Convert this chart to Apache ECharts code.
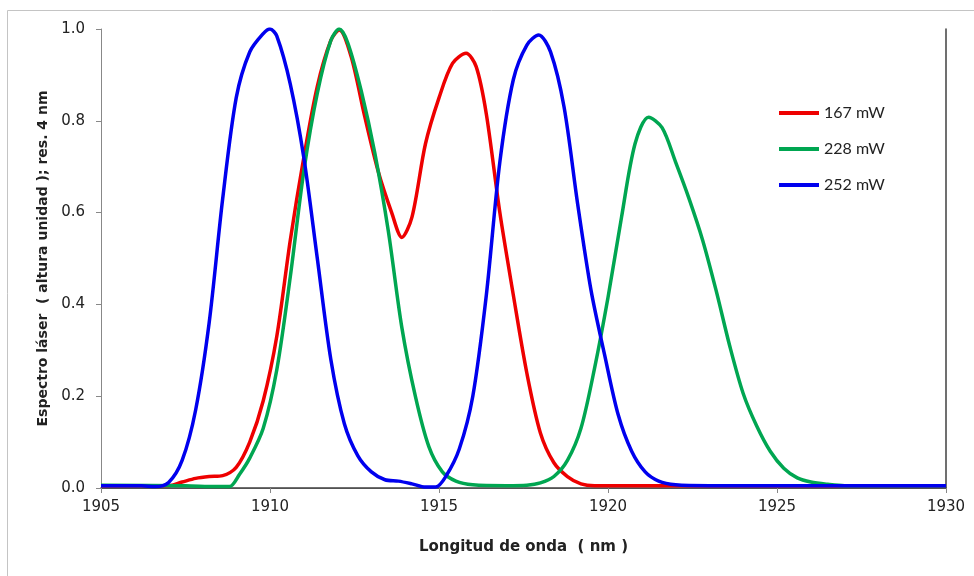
<!DOCTYPE html>
<html>
<head>
<meta charset="utf-8">
<script src="https://cdn.jsdelivr.net/npm/echarts@6/dist/echarts.min.js"></script>
<style>
  html, body { margin: 0; padding: 0; background: #fff; }
  #chart { width: 974px; height: 576px; }
</style>
</head>
<body>
<div id="chart"></div>
<script>
// wavelength (nm), normalised spectrum
var red167 = [
  [1905, 0.005], [1907.0, 0.005], [1907.4, 0.013], [1907.8, 0.021], [1908.2, 0.025],
  [1908.6, 0.027], [1909.0, 0.045], [1909.4, 0.1], [1909.8, 0.19], [1910.2, 0.33],
  [1910.6, 0.54], [1911.0, 0.72], [1911.4, 0.875], [1911.8, 0.975], [1912.05, 0.998],
  [1912.4, 0.94], [1912.8, 0.81], [1913.2, 0.69], [1913.6, 0.6], [1913.9, 0.546],
  [1914.2, 0.59], [1914.6, 0.75], [1915.0, 0.85], [1915.4, 0.925], [1915.8, 0.947],
  [1916.1, 0.918], [1916.4, 0.815], [1916.8, 0.6], [1917.2, 0.42], [1917.6, 0.25],
  [1918.0, 0.12], [1918.4, 0.055], [1918.8, 0.025], [1919.2, 0.009], [1919.6, 0.005],
  [1930, 0.005]
];
var green228 = [
  [1905, 0.006], [1907.5, 0.005], [1908.4, 0.003], [1908.8, 0.003], [1909.1, 0.03],
  [1909.4, 0.065], [1909.8, 0.13], [1910.2, 0.257], [1910.6, 0.46], [1911.0, 0.69],
  [1911.4, 0.86], [1911.8, 0.975], [1912.05, 1.0], [1912.3, 0.97], [1912.7, 0.865],
  [1913.1, 0.73], [1913.5, 0.56], [1913.9, 0.35], [1914.3, 0.2], [1914.7, 0.09],
  [1915.1, 0.035], [1915.5, 0.015], [1916.0, 0.007], [1917.0, 0.005], [1917.6, 0.006],
  [1918.0, 0.011], [1918.4, 0.025], [1918.8, 0.06], [1919.2, 0.13], [1919.6, 0.26],
  [1920.0, 0.415], [1920.4, 0.59], [1920.8, 0.75], [1921.2, 0.808], [1921.6, 0.785],
  [1922.0, 0.71], [1922.4, 0.63], [1922.8, 0.54], [1923.2, 0.43], [1923.6, 0.31],
  [1924.0, 0.206], [1924.4, 0.135], [1924.8, 0.08], [1925.2, 0.043], [1925.6, 0.022],
  [1926.0, 0.013], [1926.5, 0.008], [1927, 0.005], [1930, 0.005]
];
var blue252 = [
  [1905, 0.005], [1906.2, 0.005], [1906.6, 0.003], [1907.0, 0.012], [1907.4, 0.06],
  [1907.8, 0.17], [1908.2, 0.36], [1908.6, 0.63], [1909.0, 0.85], [1909.4, 0.95],
  [1909.8, 0.99], [1910.0, 1.0], [1910.2, 0.985], [1910.6, 0.88], [1911.0, 0.72],
  [1911.4, 0.5], [1911.8, 0.28], [1912.2, 0.14], [1912.6, 0.07], [1913.0, 0.035],
  [1913.4, 0.018], [1913.8, 0.015], [1914.2, 0.009], [1914.6, 0.002], [1914.9, 0.002],
  [1915.2, 0.025], [1915.6, 0.085], [1916.0, 0.2], [1916.4, 0.42], [1916.8, 0.71],
  [1917.2, 0.89], [1917.6, 0.965], [1917.95, 0.987], [1918.3, 0.95], [1918.7, 0.83],
  [1919.1, 0.62], [1919.5, 0.43], [1919.9, 0.29], [1920.3, 0.16], [1920.7, 0.08],
  [1921.1, 0.035], [1921.5, 0.015], [1922.0, 0.007], [1923, 0.005], [1930, 0.005]
];
var seriesNames = ['167 mW', '228 mW', '252 mW'];
var seriesColors = ['#ee0000', '#00a651', '#0000ee'];

var font = 'DejaVu Sans';
var chart = echarts.init(document.getElementById('chart'));

function line(name, data, color) {
  return {
    name: name,
    type: 'line',
    data: data,
    smooth: 0.3,
    symbol: 'none',
    lineStyle: { color: color, width: 3.5 },
    itemStyle: { color: color }
  };
}

var option = {
  animation: false,
  backgroundColor: '#fff',
  grid: { left: 101, right: 28, top: 29, bottom: 88 },
  graphic: [{
    type: 'rect',
    shape: { x: 7.5, y: 10.5, width: 990, height: 600 },
    style: { fill: 'none', stroke: '#c4c4c4', lineWidth: 1 },
    silent: true
  }],
  legend: {
    orient: 'vertical',
    left: 774,
    top: 99,
    icon: 'rect',
    itemWidth: 40,
    itemHeight: 4,
    itemGap: 18,
    textStyle: { fontFamily: 'Lato', fontSize: 16, color: '#222', lineHeight: 18 },
    data: seriesNames
  },
  xAxis: [{
    type: 'value',
    min: 1905,
    max: 1930,
    interval: 5,
    name: 'Longitud de onda  ( nm )',
    nameLocation: 'middle',
    nameGap: 52,
    nameTextStyle: { fontFamily: font, fontSize: 15, fontWeight: 'bold', color: '#222' },
    axisLine: { lineStyle: { color: '#888', width: 1 } },
    axisTick: { inside: false, length: 5, lineStyle: { color: '#888' } },
    axisLabel: {
      margin: 12, fontFamily: font, fontSize: 15, color: '#222',
      formatter: function (v) { return String(v); }
    },
    splitLine: { show: false }
  }, {
    type: 'value',
    position: 'top',
    min: 1905,
    max: 1930,
    axisLine: { show: true, lineStyle: { color: '#404040', width: 1.5 } },
    axisTick: { show: false },
    axisLabel: { show: false },
    splitLine: { show: false }
  }],
  yAxis: [{
    type: 'value',
    min: 0,
    max: 1,
    interval: 0.2,
    name: 'Espectro láser  ( altura unidad ); res. 4 nm',
    nameLocation: 'middle',
    nameGap: 50,
    nameTextStyle: { fontFamily: font, fontSize: 14, fontWeight: 'bold', color: '#222' },
    axisLine: { show: true, lineStyle: { color: '#888', width: 1 } },
    axisTick: { show: true, inside: false, length: 5, lineStyle: { color: '#888' } },
    axisLabel: {
      margin: 16, fontFamily: font, fontSize: 15, color: '#222',
      formatter: function (v) { return v.toFixed(1); }
    },
    splitLine: { show: false }
  }, {
    type: 'value',
    position: 'right',
    min: 0,
    max: 1,
    axisLine: { show: true, lineStyle: { color: '#404040', width: 1.5 } },
    axisTick: { show: false },
    axisLabel: { show: false },
    splitLine: { show: false }
  }],
  series: [
    line(seriesNames[0], red167, seriesColors[0]),
    line(seriesNames[1], green228, seriesColors[1]),
    line(seriesNames[2], blue252, seriesColors[2])
  ]
};

chart.setOption(option);
</script>
</body>
</html>
